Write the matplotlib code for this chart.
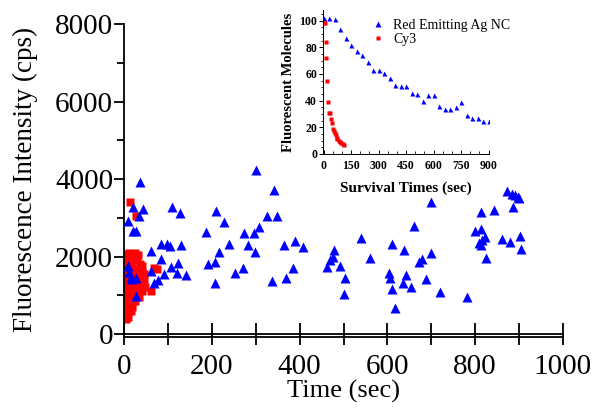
import matplotlib
matplotlib.use("Agg")
import matplotlib.pyplot as plt
import matplotlib.transforms as mtrans

plt.rcParams['font.family'] = ['Liberation Serif', 'DejaVu Serif']

# main scatter: Red Emitting Ag NC (blue triangles)
ag_time = [37, 19, 42, 34, 9, 20, 27, 110, 127, 62, 85, 97, 104, 130, 83, 62, 106, 123,
           120, 140, 90, 78, 67, 9, 12, 15, 28, 17, 27, 187, 210, 228, 190, 206, 217, 240,
           206, 253, 270, 274, 296, 307, 301, 282, 299, 325, 348, 341, 364, 390, 407, 336,
           368, 384, 479, 477, 470, 462, 491, 504, 500, 540, 561, 610, 660, 637, 700, 699,
           679, 671, 603, 605, 643, 636, 653, 689, 611, 618, 719, 782, 814, 843, 800, 814,
           823, 816, 810, 814, 826, 862, 879, 903, 904, 887, 873, 884, 892, 897, 901]
ag_int = [3915, 3286, 3234, 3045, 2924, 2666, 2666, 3286, 3114, 2150, 2315, 2315, 2280,
          2297, 1928, 1634, 1737, 1824, 1582, 1523, 1540, 1400, 1308, 1770, 1600, 1480,
          1460, 1420, 980, 2640, 3174, 2882, 1798, 1866, 2124, 2315, 1308, 1582, 1695,
          2614, 2614, 2769, 4232, 2297, 2108, 3053, 3053, 3716, 2297, 2400, 2237, 1368,
          1453, 1695, 2168, 1995, 1910, 1737, 1755, 1453, 1032, 2485, 1953, 2322, 2787,
          2168, 3398, 2098, 1928, 1866, 1566, 1453, 1515, 1308, 1221, 1411, 1153, 663,
          1092, 947, 3156, 3200, 2658, 2702, 2495, 2426, 2340, 2297, 1953, 2444, 2382,
          2529, 2194, 3286, 3698, 3630, 3587, 3527, 3502]

# main scatter: Cy3 (red squares)
cy_time = [14, 27, 4, 11, 18, 25, 31, 3, 9, 16, 23, 30, 36, 41, 4, 11, 18, 25, 33, 40, 45,
           74, 68, 3, 10, 17, 24, 31, 38, 45, 4, 11, 18, 26, 34, 42, 47, 3, 10, 17, 24, 32,
           40, 61, 4, 11, 18, 26, 33, 3, 10, 17, 24, 4, 11, 18, 3, 9, 15, 3, 8, 4]
cy_int = [3400, 3050, 2080, 2090, 2060, 2100, 2050, 1920, 1900, 1880, 1930, 1900, 1800,
          1760, 1750, 1720, 1700, 1680, 1650, 1600, 1560, 1680, 1700, 1560, 1520, 1540,
          1500, 1480, 1450, 1420, 1380, 1350, 1340, 1320, 1300, 1300, 1220, 1200, 1180,
          1150, 1160, 1140, 1100, 1120, 1050, 1000, 1020, 980, 960, 880, 850, 830, 860,
          720, 700, 710, 580, 560, 600, 450, 430, 400]

# inset: survival curves
ag_surv_t = [0, 30, 60, 90, 120, 150, 180, 210, 240, 270, 300, 330, 360, 390, 420, 450,
             480, 510, 540, 570, 600, 630, 660, 690, 720, 750, 780, 810, 840, 870, 900]
ag_surv_n = [102, 102, 101, 94, 87, 82, 77, 74, 69, 63, 63, 61, 57, 52, 51, 51, 46, 45,
             40, 44, 44, 36, 34, 34, 35, 39, 29, 27, 27, 25, 25]
cy_surv_t = [0, 5, 10, 15, 20, 25, 30, 35, 40, 45, 50, 55, 60, 65, 70, 75, 82, 90, 97,
             105, 112]
cy_surv_n = [98, 98, 84, 72, 55, 39, 31, 31, 26, 23, 19, 17, 16, 14, 12, 11, 10, 9, 8,
             7.5, 7]

x_ticks = [0, 100, 200, 300, 400, 500, 600, 700, 800, 900, 1000]
x_labels = ['0', '', '200', '', '400', '', '600', '', '800', '', '1000']
y_ticks = [0, 2000, 4000, 6000, 8000]

fig = plt.figure(figsize=(6, 4.15), dpi=100)
ax = fig.add_axes([0.207, 0.195, 0.731, 0.7465])

ax.plot(cy_time, cy_int, 's', color='red', ms=5.5, mec='none', zorder=2)
ax.plot(ag_time, ag_int, '^', color='blue', ms=7.5, mec='none', zorder=3)

ax.set_xlim(0, 1000)
ax.set_ylim(0, 8000)
ax.set_xticks(x_ticks)
ax.set_xticklabels(x_labels)
ax.set_yticks(y_ticks)
ax.set_yticks([1000, 3000, 5000, 7000], minor=True)
ax.spines['top'].set_visible(False)
ax.spines['right'].set_visible(False)
ax.spines['left'].set_linewidth(1.3)
ax.spines['bottom'].set_linewidth(1.3)
ax.tick_params(axis='x', direction='inout', length=16, width=1.3, labelsize=21, pad=6)
ax.tick_params(axis='y', which='major', direction='out', length=7, width=1.3, labelsize=21, pad=1)
ax.tick_params(axis='y', which='minor', direction='out', length=5, width=1.3)
ax.set_xlabel('Time (sec)', fontsize=19, labelpad=0)
ax.set_ylabel('Fluorescence Intensity (cps)', fontsize=19.5, labelpad=12)

# second line of the doubled x axis
off = mtrans.offset_copy(ax.transAxes, fig=fig, x=0, y=-2.6, units='dots')
ax.plot([0, 1], [0, 0], color='black', lw=1.3, transform=off, clip_on=False)

# inset
ins = fig.add_axes([0.538, 0.629, 0.2777, 0.347])
ins.plot(ag_surv_t, ag_surv_n, '^', color='blue', ms=3.6, mec='none', label='Red Emitting Ag NC')
ins.plot(cy_surv_t, cy_surv_n, 's', color='red', ms=2.8, mec='none', label='Cy3')
ins.set_xlim(-5, 905)
ins.set_ylim(0, 108)
ins.set_xticks([0, 150, 300, 450, 600, 750, 900])
ins.set_xticks([50, 100, 200, 250, 350, 400, 500, 550, 650, 700, 800, 850], minor=True)
ins.set_yticks([0, 20, 40, 60, 80, 100])
ins.set_yticks([5, 10, 15, 25, 30, 35, 45, 50, 55, 65, 70, 75, 85, 90, 95, 105], minor=True)
ins.spines['top'].set_visible(False)
ins.spines['right'].set_visible(False)
ins.spines['left'].set_linewidth(0.7)
ins.spines['bottom'].set_linewidth(0.7)
ins.tick_params(axis='x', which='major', direction='in', length=3, width=0.7, labelsize=8.5, pad=4)
ins.tick_params(axis='x', which='minor', direction='in', length=2, width=0.6)
ins.tick_params(axis='y', which='major', direction='out', length=3, width=0.7, labelsize=8.5, pad=1)
ins.tick_params(axis='y', which='minor', direction='out', length=1.5, width=0.6)
for lab in ins.get_xticklabels() + ins.get_yticklabels():
    lab.set_fontweight('bold')
ins.set_xlabel('Survival Times (sec)', fontsize=11, fontweight='bold', labelpad=7)
ins.set_ylabel('Fluorescent Molecules', fontsize=10.5, fontweight='bold', labelpad=3)
ins.legend(loc='upper left', bbox_to_anchor=(0.288, 0.94), frameon=False, fontsize=10,
           borderpad=0, borderaxespad=0, handlelength=1.0, handletextpad=0.6,
           labelspacing=0.1, markerscale=1.2)

plt.savefig('out.png', dpi=100)
